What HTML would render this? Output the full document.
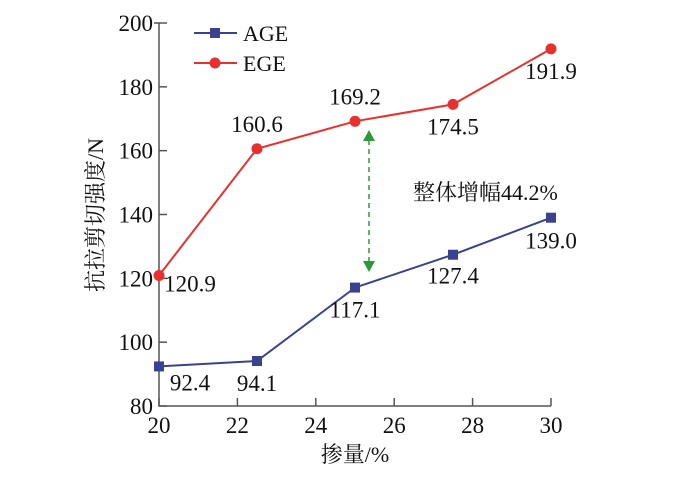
<!DOCTYPE html>
<html><head><meta charset="utf-8"><style>
body{margin:0;background:#fff}
svg text{font-family:"Liberation Serif","Noto Serif CJK SC",serif;fill:#111}
</style></head><body>
<svg width="700" height="472" xmlns="http://www.w3.org/2000/svg">
<g id="axes"></g>
<g id="marks"></g>
</svg>
<script>
const xValues=[20,22.5,25,27.5,30];
const ageValues=[92.4,94.1,117.1,127.4,139.0];
const egeValues=[120.9,160.6,169.2,174.5,191.9];
const xTicks=[20,22,24,26,28,30];
const yTicks=[80,100,120,140,160,180,200];
const NS="http://www.w3.org/2000/svg";
const X=v=>159+(v-20)*(551-159)/10;
const Y=v=>406-(v-80)*(406-23)/120;
const axes=document.getElementById('axes'),marks=document.getElementById('marks');
function mk(t,a,p){const e=document.createElementNS(NS,t);for(const k in a)e.setAttribute(k,a[k]);(p||marks).appendChild(e);return e;}
let e;
e=mk('path',{d:`M${X(20)} ${Y(200)}H${X(20)-5}M${X(20)} ${Y(200)}V${Y(80)}H${X(30)}`,stroke:'#555',fill:'none','stroke-width':1.5},axes);

xTicks.forEach(v=>{
 e=mk('line',{x1:X(v),x2:X(v),y1:Y(80),y2:Y(80)-8,stroke:'#555','stroke-width':1.5},axes);
 
 e=mk('text',{x:X(v),y:Y(80)+27,'text-anchor':'middle','font-size':23},axes);e.textContent=v;
 
});
yTicks.forEach(v=>{
 e=mk('line',{x1:X(20),x2:X(20)+8,y1:Y(v),y2:Y(v),stroke:'#555','stroke-width':1.5},axes);
 
 e=mk('text',{x:X(20)-6,y:Y(v)+8,'text-anchor':'end','font-size':23},axes);e.textContent=v;
 
});
e=mk('text',{x:355,y:462,'text-anchor':'middle','font-size':22},axes);e.textContent='掺量/%';

e=mk('text',{x:0,y:0,'text-anchor':'middle','font-size':22,transform:`translate(103,215) rotate(-90)`},axes);e.textContent='抗拉剪切强度/N';

function series(vals,color,name,shape,labelOff){
 e=mk('polyline',{points:vals.map((v,i)=>X(xValues[i])+','+Y(v)).join(' '),fill:'none',stroke:color,'stroke-width':2});
 
 vals.forEach((v,i)=>{
  const cx=X(xValues[i]),cy=Y(v);
  if(shape==='sq')e=mk('rect',{x:cx-5,y:cy-5,width:10,height:10,fill:color});
  else e=mk('circle',{cx,cy,r:5.5,fill:color});
  
  const o=labelOff[i];
  e=mk('text',{x:cx+o[0],y:cy+o[1],'text-anchor':'middle','font-size':23});e.textContent=v.toFixed(1);
  
 });
}
series(ageValues,'#3a418f','age','sq',[[31,24],[0,30],[0,30],[0,29],[0,31]]);
series(egeValues,'#e8312e','ege','circ',[[31,16],[0,-17],[0,-17],[0,30],[0,30]]);
// legend
[['AGE','#3a418f','sq',33],['EGE','#e8312e','circ',63]].forEach(l=>{
 e=mk('line',{x1:194,x2:237,y1:l[3],y2:l[3],stroke:l[1],'stroke-width':2});
 
 if(l[2]==='sq')mk('rect',{x:210,y:l[3]-5,width:10,height:10,fill:l[1]});else mk('circle',{cx:215,cy:l[3],r:5.5,fill:l[1]});
 e=mk('text',{x:243,y:l[3]+8,'font-size':22});e.textContent=l[0];
 
});
// arrow
e=mk('line',{x1:369,x2:369,y1:140,y2:262,stroke:'#2a9a3a','stroke-width':1.5,'stroke-dasharray':'5,4'});

mk('path',{d:'M363 141L369 130L375 141Z',fill:'#2a9a3a'});
mk('path',{d:'M363 261L369 272L375 261Z',fill:'#2a9a3a'});
e=mk('text',{x:413,y:200,'font-size':22});e.textContent='整体增幅44.2%';

</script>
</body></html>
